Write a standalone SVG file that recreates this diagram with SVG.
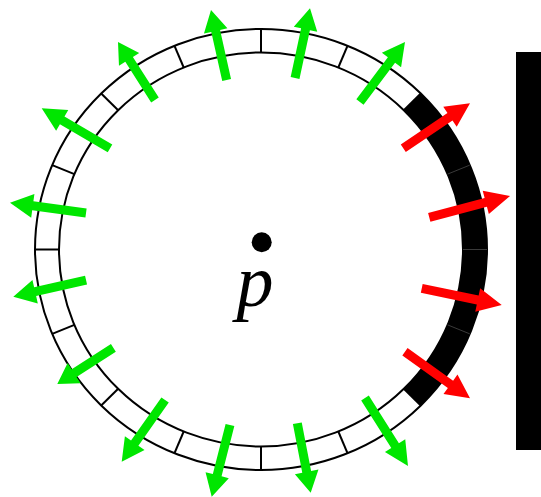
<svg xmlns="http://www.w3.org/2000/svg" xmlns:xlink="http://www.w3.org/1999/xlink" width="541" height="497" viewBox="0 0 541 497">
<style>
.ring{fill:none;stroke:#000;stroke-width:2}
.div{stroke:#000;stroke-width:2}
.divd{stroke:#3a3a3a;stroke-width:1}
.g{fill:#00e600}
.r{fill:#ff0000}
</style>
<defs>
<path id="ar" d="M0,0 L-24,-12 L-24,-4.5 L-80,-4.5 L-80,4.5 L-24,4.5 L-24,12 Z"/>
</defs>
<rect width="541" height="497" fill="#fff"/>
<g id="wall"><rect x="516" y="52" width="25" height="398" fill="#000"/></g>
<g id="ring">
<path d="M420.81,93.58 A226,220.5 0 0 1 420.81,405.42 L403.83,388.80 A202,197 0 0 0 403.83,110.20 Z" fill="#000"/>
<ellipse class="ring" cx="261" cy="249.5" rx="226" ry="220.5"/>
<ellipse class="ring" cx="261" cy="249.5" rx="202" ry="197"/>
<line class="divd" x1="463" y1="249.5" x2="487" y2="249.5"/>
<line class="divd" x1="447.62" y1="174.11" x2="469.80" y2="165.12"/>
<line class="divd" x1="447.62" y1="324.89" x2="469.80" y2="333.88"/>
<line class="div" x1="403.83" y1="110.20" x2="420.81" y2="93.58"/>
<line class="div" x1="338.30" y1="67.50" x2="347.49" y2="45.78"/>
<line class="div" x1="261" y1="52.5" x2="261" y2="29"/>
<line class="div" x1="183.70" y1="67.50" x2="174.51" y2="45.78"/>
<line class="div" x1="118.17" y1="110.20" x2="101.19" y2="93.58"/>
<line class="div" x1="74.38" y1="174.11" x2="52.20" y2="165.12"/>
<line class="div" x1="59" y1="249.5" x2="35" y2="249.5"/>
<line class="div" x1="74.38" y1="324.89" x2="52.20" y2="333.88"/>
<line class="div" x1="118.17" y1="388.80" x2="101.19" y2="405.42"/>
<line class="div" x1="183.70" y1="431.50" x2="174.51" y2="453.22"/>
<line class="div" x1="261" y1="446.5" x2="261" y2="470"/>
<line class="div" x1="338.30" y1="431.50" x2="347.49" y2="453.22"/>
<line class="div" x1="403.83" y1="388.80" x2="420.81" y2="405.42"/>
</g>
<g id="arrows">
<use xlink:href="#ar" class="r" transform="translate(510,196) rotate(-14.8) scale(1.044,1)"/>
<use xlink:href="#ar" class="r" transform="translate(501.7,305) rotate(11.8) scale(1.021,1)"/>
<use xlink:href="#ar" class="r" transform="translate(470,103.3) rotate(-34) scale(1.006,1)"/>
<use xlink:href="#ar" class="r" transform="translate(470,398.3) rotate(35.6)"/>
<use xlink:href="#ar" class="g" transform="translate(310,8.3) rotate(-77.9) scale(0.891,1)"/>
<use xlink:href="#ar" class="g" transform="translate(211,10) rotate(-102.6) scale(0.896,1)"/>
<use xlink:href="#ar" class="g" transform="translate(211.7,496.7) rotate(104.3) scale(0.925,1)"/>
<use xlink:href="#ar" class="g" transform="translate(310.7,492.7) rotate(79.1) scale(0.884,1)"/>
<use xlink:href="#ar" class="g" transform="translate(10,202.7) rotate(-172.3) scale(0.959,1)"/>
<use xlink:href="#ar" class="g" transform="translate(13.3,296.7) rotate(167.1) scale(0.933,1)"/>
<use xlink:href="#ar" class="g" transform="translate(41.7,108.3) rotate(-149.6) scale(0.99,1)"/>
<use xlink:href="#ar" class="g" transform="translate(57.3,384) rotate(147.2) scale(0.834,1)"/>
<use xlink:href="#ar" class="g" transform="translate(121.7,461.7) rotate(125.1) scale(0.943,1)"/>
<use xlink:href="#ar" class="g" transform="translate(118,42) rotate(-122.5) scale(0.86,1)"/>
<use xlink:href="#ar" class="g" transform="translate(405,42) rotate(-53.1) scale(0.938,1)"/>
<use xlink:href="#ar" class="g" transform="translate(408,466) rotate(57.7) scale(1.006,1)"/>
</g>
<g id="p">
<circle cx="261.7" cy="242.3" r="10" fill="#000"/>
<text x="255" y="306" text-anchor="middle" font-family="'Liberation Serif', 'Times New Roman', serif" font-style="italic" font-size="74">p</text>
</g>
</svg>
